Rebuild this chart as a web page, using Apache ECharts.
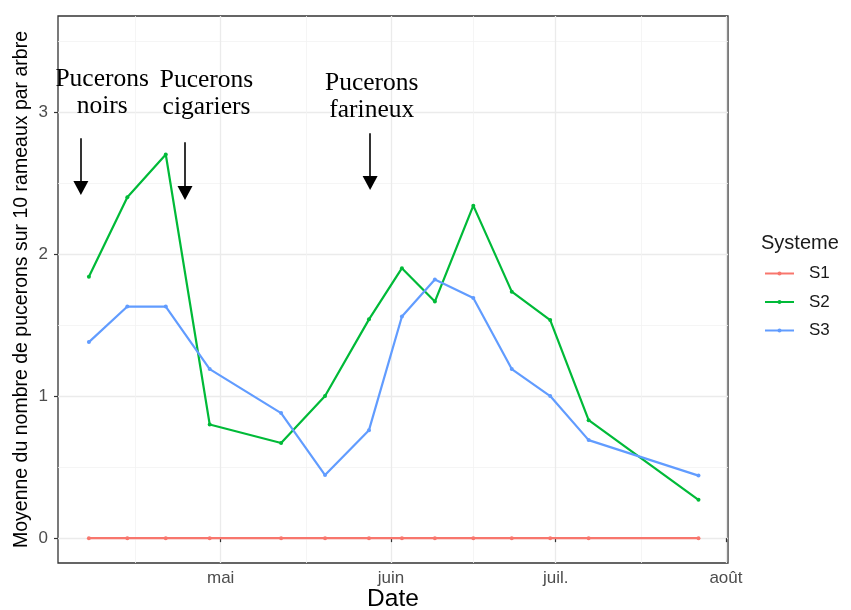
<!DOCTYPE html>
<html><head><meta charset="utf-8">
<script src="https://cdn.jsdelivr.net/npm/echarts@6/dist/echarts.min.js"></script>
<style>html,body{margin:0;padding:0;background:#fff}#c{width:851px;height:610px}</style>
</head><body><div id="c"></div>
<script>
const dates = ['2021-04-07','2021-04-14','2021-04-21','2021-04-29','2021-05-12','2021-05-20','2021-05-28','2021-06-03','2021-06-09','2021-06-16','2021-06-23','2021-06-30','2021-07-07','2021-07-27'];
const s1 = [0,0,0,0,0,0,0,0,0,0,0,0,0,0];
const s2 = [1.84,2.40,2.70,0.80,0.67,1.00,1.54,1.90,1.665,2.34,1.735,1.535,0.83,0.27];
const s3 = [1.38,1.63,1.63,1.19,0.88,0.444,0.76,1.56,1.82,1.69,1.19,1.00,0.69,0.44];
const seriesNames = ['S1','S2','S3'];
const seriesColors = ['#F8766D','#00BA38','#619CFF'];
const monthTicks = ['2021-05-01','2021-06-01','2021-07-01','2021-08-01'];
const monthLabels = ['mai','juin','juil.','août'];
const minorTicksX = ['2021-04-15T12:00','2021-05-16T12:00','2021-06-16T00:00','2021-07-16T12:00'];
const yTicks = [0,1,2,3];
const yMinor = [0.5,1.5,2.5,3.5];
const annotationTexts = ['Pucerons\nnoirs','Pucerons\ncigariers','Pucerons\nfarineux'];
const annotationTextDates = ['2021-04-09T10:00','2021-04-28T10:00','2021-05-28T12:00'];
const annotationTextY = [3.135,3.125,3.105];
const arrowDates = ['2021-04-05T13:00','2021-04-24T12:00','2021-05-28T05:00'];
const arrowTop = [2.815,2.787,2.85];
const arrowEnd = [2.465,2.43,2.50];

const T = (s) => +echarts.time.parse(s);
const chart = echarts.init(document.getElementById('c'), null, {renderer:'canvas'});
const seriesData = [s1,s2,s3];
const yMin = -0.175, yMax = 3.675;
const xMin = T('2021-04-01T09:00'), xMax = T('2021-08-01T09:00');
const monthTickVals = monthTicks.map(T);

const series = seriesNames.map((n,k)=>({
  name:n, type:'line', symbol:'circle', symbolSize:4, showSymbol:true,
  color:seriesColors[k],
  lineStyle:{width:2.2, color:seriesColors[k]},
  itemStyle:{color:seriesColors[k]},
  data: dates.map((d,i)=>[T(d), seriesData[k][i]]),
  z: 3
}));
series.push({
  type:'line', data:[], silent:true, z:5,
  markLine:{
    silent:true, symbol:['none','triangle'], symbolSize:[15,14],
    label:{show:false},
    lineStyle:{color:'#000', width:1.6, type:'solid'},
    emphasis:{disabled:true},
    data: arrowDates.map((d,i)=>[{coord:[T(d), arrowTop[i]]},{coord:[T(d), arrowEnd[i]]}])
  },
  markPoint:{
    silent:true, symbol:'circle', symbolSize:0,
    label:{show:true, position:'inside', formatter:'{b}', fontFamily:'Liberation Serif', fontSize:25.5, lineHeight:27, color:'#000', align:'center', verticalAlign:'middle'},
    data: annotationTexts.map((t,i)=>({name:t, coord:[T(annotationTextDates[i]), annotationTextY[i]]}))
  }
});

chart.setOption({
  animation:false,
  backgroundColor:'#fff',
  textStyle:{fontFamily:'Liberation Sans'},
  title:{text:'Systeme', left:761, top:233, padding:0, textStyle:{fontSize:20, fontWeight:'normal', color:'#1a1a1a', fontFamily:'Liberation Sans'}},
  legend:{data:seriesNames, orient:'vertical', left:764, top:265, padding:0, itemWidth:29, itemHeight:5, itemGap:11.5,
    textStyle:{fontSize:17, color:'#1a1a1a', padding:[0,0,0,10], fontFamily:'Liberation Sans'}},
  grid:{left:58, right:123, top:16, bottom:47, show:true, borderColor:'#333', borderWidth:1.3, backgroundColor:'transparent', outerBoundsMode:'none', containLabel:false},
  xAxis:[{
    type:'value', min:xMin, max:xMax,
    name:'Date', nameLocation:'middle', nameGap:24, nameMoveOverlap:false, nameTextStyle:{fontSize:24.5, color:'#000', lineHeight:25},
    axisLine:{show:false},
    axisTick:{show:true, customValues:monthTickVals, length:4, lineStyle:{color:'#333', width:1.2}},
    axisLabel:{customValues:monthTickVals, color:'#4d4d4d', fontSize:17, margin:7, formatter:(v)=>monthLabels[monthTickVals.indexOf(v)]},
    splitLine:{show:true, lineStyle:{color:'#ebebeb', width:1.3}}
  },{
    type:'value', min:xMin, max:xMax, position:'bottom',
    axisLine:{show:false}, axisLabel:{show:false},
    axisTick:{show:false, customValues:minorTicksX.map(T)},
    splitLine:{show:true, lineStyle:{color:'#f2f2f2', width:0.8}}
  }],
  yAxis:[{
    type:'value', min:yMin, max:yMax,
    name:'Moyenne du nombre de pucerons sur 10 rameaux par arbre', nameLocation:'middle', nameGap:26, nameMoveOverlap:false,
    nameTextStyle:{fontSize:19.5, color:'#000'},
    axisLine:{show:false},
    axisTick:{show:true, customValues:yTicks, length:4, lineStyle:{color:'#333', width:1.2}},
    axisLabel:{customValues:yTicks, color:'#4d4d4d', fontSize:17, margin:10},
    splitLine:{show:true, lineStyle:{color:'#ebebeb', width:1.3}}
  },{
    type:'value', min:yMin, max:yMax, position:'left',
    axisLine:{show:false}, axisLabel:{show:false},
    axisTick:{show:false, customValues:yMinor},
    splitLine:{show:true, lineStyle:{color:'#f2f2f2', width:0.8}}
  }],
  series: series
});
</script>
</body></html>
